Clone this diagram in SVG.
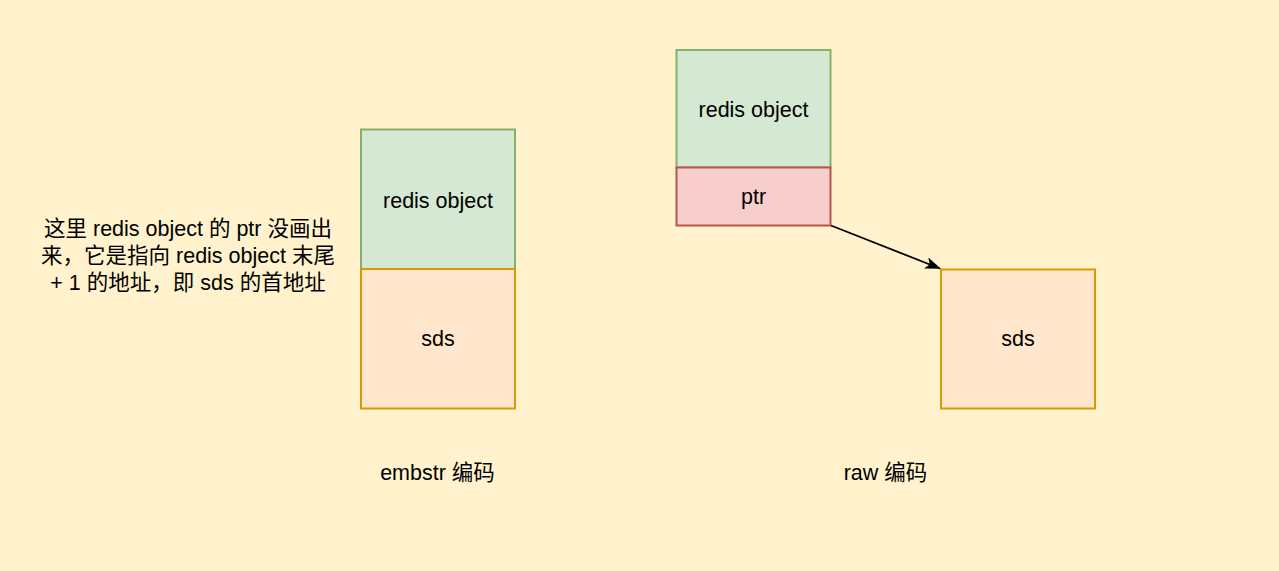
<svg xmlns="http://www.w3.org/2000/svg" width="1279" height="571" viewBox="0 0 1279 571">
<defs>
<style>
text{font-family:"Liberation Sans","Noto Sans CJK SC",sans-serif;font-size:21.5px;fill:#000;text-anchor:middle}
.g{fill:#d5e8d4;stroke:#82b366;stroke-width:2}
.o{fill:#ffe6cc;stroke:#d79b00;stroke-width:2}
.r{fill:#f8cecc;stroke:#b85450;stroke-width:2}
</style>
<marker id="arr" viewBox="0 0 16 12" refX="15" refY="6" markerWidth="16" markerHeight="12" markerUnits="userSpaceOnUse" orient="auto">
<path d="M0,0 L16,6 L0,12 L4,6 Z" fill="#000"/>
</marker>
</defs>
<rect width="1279" height="571" fill="#fff2cc"/>
<g id="emb-obj"><rect class="g" x="361" y="129.5" width="154" height="139.5"/><text x="438" y="208">redis object</text></g>
<g id="emb-sds"><rect class="o" x="361" y="269" width="154" height="139.5"/><text x="438" y="346">sds</text></g>
<g id="raw-obj"><rect class="g" x="676.5" y="50" width="154" height="117.5"/><text x="753.5" y="117">redis object</text></g>
<g id="raw-ptr"><rect class="r" x="676.5" y="167.5" width="154" height="58"/><text x="753.5" y="204">ptr</text></g>
<g id="raw-sds"><rect class="o" x="941" y="269.5" width="154" height="139"/><text x="1018" y="346">sds</text></g>
<g id="note">
<text x="188" y="236">这里 redis object 的 ptr 没画出</text>
<text x="188" y="263">来，它是指向 redis object 末尾</text>
<text x="188" y="290">+ 1 的地址，即 sds 的首地址</text>
</g>
<g id="label-embstr"><text x="437.5" y="480">embstr 编码</text></g>
<g id="label-raw"><text x="885.5" y="480">raw 编码</text></g>
<g id="connectors">
<line x1="831" y1="225.5" x2="940" y2="268.5" stroke="#000" stroke-width="1.8" marker-end="url(#arr)"/>
</g>
</svg>
